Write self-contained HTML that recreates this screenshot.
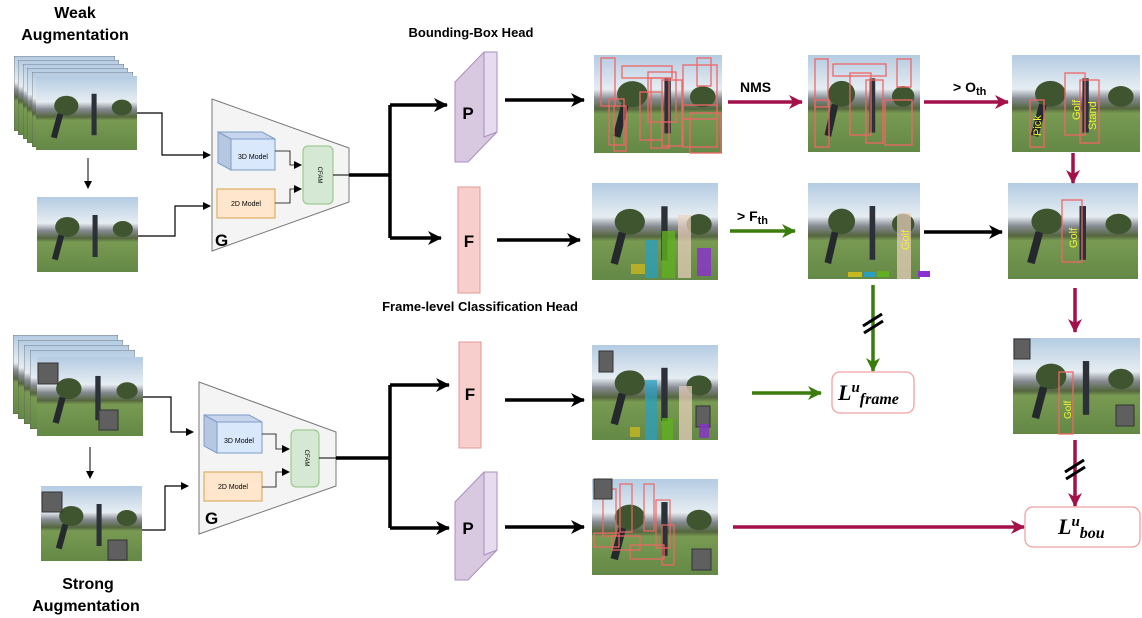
<!DOCTYPE html>
<html><head><meta charset="utf-8"><style>
html,body{margin:0;padding:0;background:#fff}
svg{display:block}
text{font-family:"Liberation Sans",sans-serif}
</style></head><body>
<svg width="1142" height="618" viewBox="0 0 1142 618" xmlns="http://www.w3.org/2000/svg">
<defs>
<linearGradient id="sky" x1="0" y1="0" x2="0" y2="1">
<stop offset="0" stop-color="#b4cbe2"/><stop offset="0.35" stop-color="#e6edf2"/><stop offset="0.45" stop-color="#858a90"/><stop offset="0.55" stop-color="#55663f"/><stop offset="0.6" stop-color="#789a52"/><stop offset="1" stop-color="#648846"/>
</linearGradient>
<symbol id="ph" viewBox="0 0 100 75" preserveAspectRatio="none">
<rect width="100" height="75" fill="url(#sky)"/>
<ellipse cx="30" cy="30" rx="12" ry="10" fill="#3f5530"/>
<ellipse cx="85" cy="32" rx="10" ry="8" fill="#3f5530"/>
<rect x="55" y="18" width="5" height="42" fill="#2c3038"/>
<rect x="18" y="38" width="6" height="25" fill="#25292d" transform="rotate(15 21 50)"/>
</symbol>
<marker id="ab" markerWidth="8" markerHeight="8" refX="7" refY="4" orient="auto" markerUnits="userSpaceOnUse"><path d="M0,0 L8,4 L0,8 Z" fill="#000"/></marker>
<marker id="aB" markerWidth="14" markerHeight="14" refX="13" refY="7" orient="auto" markerUnits="userSpaceOnUse"><path d="M0,0 L14,7 L0,14 L4,7 Z" fill="#000"/></marker>
<marker id="aR" markerWidth="14" markerHeight="14" refX="13" refY="7" orient="auto" markerUnits="userSpaceOnUse"><path d="M0,0 L14,7 L0,14 L4,7 Z" fill="#a3104a"/></marker>
<marker id="aG" markerWidth="14" markerHeight="14" refX="13" refY="7" orient="auto" markerUnits="userSpaceOnUse"><path d="M0,0 L14,7 L0,14 L4,7 Z" fill="#3a7d0c"/></marker>
</defs>

<text x="75" y="18" font-size="16" font-weight="bold" text-anchor="middle">Weak</text>
<text x="75" y="40" font-size="16" font-weight="bold" text-anchor="middle">Augmentation</text>
<text x="88" y="589" font-size="16" font-weight="bold" text-anchor="middle">Strong</text>
<text x="86" y="611" font-size="16" font-weight="bold" text-anchor="middle">Augmentation</text>
<text x="471" y="37" font-size="13" font-weight="bold" text-anchor="middle">Bounding-Box Head</text>
<text x="480" y="311" font-size="13" font-weight="bold" text-anchor="middle">Frame-level Classification Head</text>

<g stroke="#555" stroke-width="0.6">
<use href="#ph" x="14" y="56" width="101" height="75"/>
<use href="#ph" x="18" y="60" width="101" height="75"/>
<use href="#ph" x="23" y="64" width="101" height="75"/>
<use href="#ph" x="27" y="68" width="101" height="75"/>
<use href="#ph" x="32" y="72" width="101" height="75"/>
</g>
<use href="#ph" x="36" y="76" width="101" height="74"/>
<use href="#ph" x="37" y="197" width="101" height="75"/>
<line x1="88" y1="158" x2="88" y2="188" stroke="#000" marker-end="url(#ab)"/>
<polyline points="137,113 162,113 162,155 210,155" fill="none" stroke="#000" stroke-width="1.2" marker-end="url(#ab)"/>
<polyline points="138,236 175,236 175,206 210,206" fill="none" stroke="#000" stroke-width="1.2" marker-end="url(#ab)"/>

<polygon points="212,99 349,148 349,202 212,251" fill="#f4f4f4" stroke="#777"/>
<polygon points="218,132 231,139 275,139 262,132" fill="#c6d5ec" stroke="#7c9cc9"/>
<polygon points="218,132 231,139 231,170 218,163" fill="#b6c7e2" stroke="#7c9cc9"/>
<rect x="231" y="139" width="44" height="31" fill="#dae8fc" stroke="#7c9cc9"/>
<text x="253" y="159" font-size="7" text-anchor="middle">3D Model</text>
<rect x="217" y="189" width="58" height="29" fill="#ffe6cc" stroke="#d6a24a"/>
<text x="246" y="206" font-size="7" text-anchor="middle">2D Model</text>
<rect x="303" y="146" width="30" height="58" rx="5" fill="#d5e8d4" stroke="#8fc47f"/>
<text x="318" y="175" font-size="6" text-anchor="middle" transform="rotate(90 318 175)">CFAM</text>
<polyline points="275,151 290,151 290,165 301,165" fill="none" stroke="#000" stroke-width="0.8" marker-end="url(#ab)"/>
<polyline points="275,203 290,203 290,189 301,189" fill="none" stroke="#000" stroke-width="0.8" marker-end="url(#ab)"/>
<line x1="333" y1="175" x2="349" y2="175" stroke="#000"/>
<text x="215" y="246" font-size="17" font-weight="bold">G</text>

<polygon points="199,382 336,432 336,486 199,534" fill="#f4f4f4" stroke="#777"/>
<polygon points="204,415 217,422 262,422 249,415" fill="#c6d5ec" stroke="#7c9cc9"/>
<polygon points="204,415 217,422 217,453 204,446" fill="#b6c7e2" stroke="#7c9cc9"/>
<rect x="217" y="422" width="45" height="31" fill="#dae8fc" stroke="#7c9cc9"/>
<text x="239" y="443" font-size="7" text-anchor="middle">3D Model</text>
<rect x="204" y="472" width="58" height="29" fill="#ffe6cc" stroke="#d6a24a"/>
<text x="233" y="489" font-size="7" text-anchor="middle">2D Model</text>
<rect x="291" y="430" width="28" height="57" rx="5" fill="#d5e8d4" stroke="#8fc47f"/>
<text x="305" y="458" font-size="6" text-anchor="middle" transform="rotate(90 305 458)">CFAM</text>
<polyline points="262,434 276,434 276,449 289,449" fill="none" stroke="#000" stroke-width="0.8" marker-end="url(#ab)"/>
<polyline points="262,487 276,487 276,472 289,472" fill="none" stroke="#000" stroke-width="0.8" marker-end="url(#ab)"/>
<line x1="319" y1="458" x2="336" y2="458" stroke="#000"/>
<text x="205" y="524" font-size="17" font-weight="bold">G</text>

<g stroke="#555" stroke-width="0.6">
<use href="#ph" x="13" y="335" width="105" height="79"/>
<use href="#ph" x="18" y="340" width="105" height="79"/>
<use href="#ph" x="24" y="345" width="105" height="79"/>
<use href="#ph" x="30" y="350" width="105" height="79"/>
</g>
<use href="#ph" x="37" y="357" width="106" height="79"/>
<rect x="38" y="363" width="20" height="21" fill="#5f5f5f" stroke="#333"/>
<rect x="99" y="410" width="19" height="20" fill="#5f5f5f" stroke="#333"/>
<use href="#ph" x="41" y="486" width="101" height="75"/>
<rect x="42" y="492" width="20" height="20" fill="#5f5f5f" stroke="#333"/>
<rect x="108" y="540" width="19" height="20" fill="#5f5f5f" stroke="#333"/>
<line x1="90" y1="447" x2="90" y2="478" stroke="#000" marker-end="url(#ab)"/>
<polyline points="143,397 171,397 171,432 193,432" fill="none" stroke="#000" stroke-width="1.2" marker-end="url(#ab)"/>
<polyline points="142,530 165,530 165,486 188,486" fill="none" stroke="#000" stroke-width="1.2" marker-end="url(#ab)"/>

<g fill="none" stroke="#000" stroke-width="3.5">
<line x1="349" y1="175" x2="390" y2="175"/>
<polyline points="390,105 390,238"/>
<line x1="390" y1="105" x2="447" y2="105" marker-end="url(#aB)"/>
<line x1="390" y1="238" x2="441" y2="238" marker-end="url(#aB)"/>
<line x1="336" y1="458" x2="390" y2="458"/>
<polyline points="390,385 390,528"/>
<line x1="390" y1="385" x2="449" y2="385" marker-end="url(#aB)"/>
<line x1="390" y1="528" x2="449" y2="528" marker-end="url(#aB)"/>
<line x1="505" y1="100" x2="584" y2="100" marker-end="url(#aB)"/>
<line x1="497" y1="240" x2="580" y2="240" marker-end="url(#aB)"/>
<line x1="505" y1="400" x2="584" y2="400" marker-end="url(#aB)"/>
<line x1="505" y1="527" x2="584" y2="527" marker-end="url(#aB)"/>
<line x1="924" y1="232" x2="1002" y2="232" marker-end="url(#aB)"/>
</g>

<polygon points="455,82 484,52 497,52 497,132 468,162 455,162" fill="#d8c8e0" stroke="#a88fbf"/>
<polygon points="484,52 497,52 497,132 484,137" fill="#e6dbef" stroke="#a88fbf"/>
<text x="468" y="119" font-size="17" font-weight="bold" text-anchor="middle">P</text>
<rect x="458" y="187" width="22" height="106" fill="#f8cecc" stroke="#e09a96"/>
<text x="469" y="247" font-size="17" font-weight="bold" text-anchor="middle">F</text>
<rect x="459" y="342" width="22" height="106" fill="#f8cecc" stroke="#e09a96"/>
<text x="470" y="400" font-size="17" font-weight="bold" text-anchor="middle">F</text>
<polygon points="455,502 484,472 497,472 497,550 468,580 455,580" fill="#d8c8e0" stroke="#a88fbf"/>
<polygon points="484,472 497,472 497,550 484,555" fill="#e6dbef" stroke="#a88fbf"/>
<text x="468" y="534" font-size="17" font-weight="bold" text-anchor="middle">P</text>

<use href="#ph" x="594" y="55" width="128" height="98"/>
<g fill="none" stroke="#ee6666" stroke-width="1.3">
<rect x="601" y="58" width="14" height="48"/><rect x="622" y="66" width="50" height="12"/><rect x="648" y="72" width="28" height="50"/>
<rect x="651" y="78" width="18" height="70"/><rect x="662" y="80" width="20" height="66"/><rect x="683" y="65" width="34" height="54"/>
<rect x="609" y="99" width="15" height="46"/><rect x="614" y="106" width="12" height="45"/><rect x="683" y="105" width="34" height="42"/>
<rect x="690" y="113" width="31" height="40"/><rect x="697" y="58" width="14" height="28"/><rect x="640" y="92" width="22" height="48"/>
</g>
<use href="#ph" x="808" y="55" width="112" height="97"/>
<g fill="none" stroke="#ee6666" stroke-width="1.3">
<rect x="815" y="59" width="13" height="48"/><rect x="833" y="64" width="53" height="12"/><rect x="850" y="73" width="21" height="62"/>
<rect x="866" y="80" width="17" height="63"/><rect x="815" y="100" width="14" height="47"/><rect x="885" y="100" width="27" height="45"/><rect x="897" y="59" width="14" height="28"/>
</g>
<use href="#ph" x="1012" y="55" width="128" height="97"/>
<g fill="none" stroke="#ee6666" stroke-width="1.3">
<rect x="1030" y="100" width="14" height="47"/><rect x="1065" y="73" width="20" height="62"/><rect x="1080" y="80" width="19" height="63"/>
</g>
<g fill="#f2f230" font-size="11">
<text x="0" y="0" transform="translate(1041 136) rotate(-90)">Pick</text>
<text x="0" y="0" transform="translate(1080 120) rotate(-90)">Golf</text>
<text x="0" y="0" transform="translate(1096 130) rotate(-90)">Stand</text>
</g>

<use href="#ph" x="592" y="183" width="126" height="97"/>
<rect x="631" y="264" width="14" height="10" fill="#c8b820" opacity="0.8"/>
<rect x="645" y="240" width="13" height="38" fill="#29a0c0" opacity="0.75"/>
<rect x="662" y="231" width="13" height="47" fill="#62b020" opacity="0.8"/>
<rect x="678" y="215" width="13" height="63" fill="#ecd2c0" opacity="0.7"/>
<rect x="697" y="248" width="14" height="28" fill="#8a30d0" opacity="0.8"/>
<use href="#ph" x="808" y="183" width="112" height="96"/>
<rect x="897" y="213" width="14" height="66" fill="#ecd2c0" opacity="0.7"/>
<rect x="848" y="272" width="14" height="5" fill="#c8b820"/><rect x="864" y="272" width="12" height="5" fill="#29a0c0"/><rect x="877" y="271" width="12" height="6" fill="#62b020"/><rect x="918" y="271" width="12" height="6" fill="#8a30d0"/>
<text x="0" y="0" transform="translate(909 250) rotate(-90)" fill="#f2f230" font-size="11">Golf</text>
<use href="#ph" x="1008" y="183" width="130" height="96"/>
<rect x="1062" y="200" width="20" height="62" fill="none" stroke="#ee6666" stroke-width="1.3"/>
<text x="0" y="0" transform="translate(1077 248) rotate(-90)" fill="#f2f230" font-size="11">Golf</text>

<use href="#ph" x="592" y="345" width="126" height="95"/>
<rect x="599" y="351" width="14" height="21" fill="#5f5f5f" stroke="#333"/>
<rect x="630" y="427" width="10" height="10" fill="#c8b820" opacity="0.8"/>
<rect x="645" y="380" width="12" height="60" fill="#29a0c0" opacity="0.75"/>
<rect x="662" y="418" width="11" height="22" fill="#62b020" opacity="0.8"/>
<rect x="679" y="386" width="13" height="54" fill="#ecd2c0" opacity="0.7"/>
<rect x="696" y="406" width="14" height="21" fill="#5f5f5f" stroke="#333"/>
<rect x="699" y="424" width="10" height="14" fill="#8a30d0" opacity="0.8"/>

<use href="#ph" x="592" y="479" width="126" height="96"/>
<g fill="none" stroke="#ee6666" stroke-width="1.2">
<rect x="603" y="489" width="13" height="47"/><rect x="620" y="484" width="12" height="48"/><rect x="644" y="484" width="10" height="47"/>
<rect x="656" y="500" width="14" height="48"/><rect x="594" y="533" width="25" height="14"/><rect x="612" y="536" width="28" height="14"/><rect x="630" y="545" width="34" height="14"/><rect x="662" y="525" width="12" height="40"/>
</g>
<rect x="594" y="479" width="18" height="20" fill="#5f5f5f" stroke="#333"/>
<rect x="692" y="549" width="19" height="21" fill="#5f5f5f" stroke="#333"/>

<use href="#ph" x="1013" y="338" width="127" height="96"/>
<rect x="1014" y="339" width="16" height="20" fill="#5f5f5f" stroke="#333"/>
<rect x="1116" y="405" width="18" height="21" fill="#5f5f5f" stroke="#333"/>
<rect x="1059" y="372" width="14" height="62" fill="none" stroke="#ee6666" stroke-width="1.3"/>
<text x="0" y="0" transform="translate(1071 419) rotate(-90)" fill="#f2f230" font-size="10">Golf</text>

<g fill="none" stroke-width="3.5">
<line x1="728" y1="102" x2="802" y2="102" stroke="#a3104a" marker-end="url(#aR)"/>
<line x1="924" y1="102" x2="1008" y2="102" stroke="#a3104a" marker-end="url(#aR)"/>
<line x1="1073" y1="153" x2="1073" y2="183" stroke="#a3104a" marker-end="url(#aR)"/>
<line x1="1075" y1="288" x2="1075" y2="332" stroke="#a3104a" marker-end="url(#aR)"/>
<line x1="1075" y1="440" x2="1075" y2="506" stroke="#a3104a" marker-end="url(#aR)"/>
<line x1="733" y1="527" x2="1024" y2="527" stroke="#a3104a" marker-end="url(#aR)"/>
<line x1="730" y1="231" x2="795" y2="231" stroke="#3a7d0c" marker-end="url(#aG)"/>
<line x1="873" y1="285" x2="873" y2="371" stroke="#3a7d0c" marker-end="url(#aG)"/>
<line x1="752" y1="393" x2="821" y2="393" stroke="#3a7d0c" marker-end="url(#aG)"/>
</g>
<g stroke="#000" stroke-width="3">
<line x1="863" y1="326" x2="882" y2="314"/><line x1="864" y1="333" x2="883" y2="321"/>
<line x1="1065" y1="472" x2="1084" y2="460"/><line x1="1066" y1="479" x2="1085" y2="467"/>
</g>
<text x="740" y="92" font-size="14" font-weight="bold">NMS</text>
<text x="953" y="92" font-size="14" font-weight="bold">&gt;  O<tspan font-size="11" dy="3">th</tspan></text>
<text x="737" y="221" font-size="14" font-weight="bold">&gt;  F<tspan font-size="11" dy="3">th</tspan></text>

<rect x="832" y="372" width="82" height="41" rx="8" fill="#fff" stroke="#f0a0a0" stroke-width="1.3"/>
<text x="838" y="400" style="font-family:'Liberation Serif',serif;font-style:italic;font-weight:bold;font-size:22px">L<tspan style="font-size:15px" dy="-8">u</tspan><tspan style="font-size:16px" dy="12">frame</tspan></text>
<rect x="1025" y="507" width="115" height="40" rx="8" fill="#fff" stroke="#f0a0a0" stroke-width="1.3"/>
<text x="1058" y="534" style="font-family:'Liberation Serif',serif;font-style:italic;font-weight:bold;font-size:22px">L<tspan style="font-size:15px" dy="-8">u</tspan><tspan style="font-size:16px" dy="12">bou</tspan></text>
</svg>
</body></html>
